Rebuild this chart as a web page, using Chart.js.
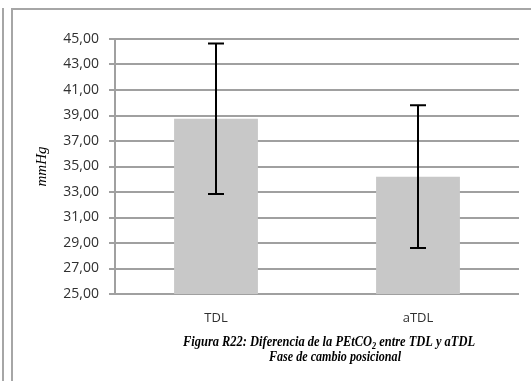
<!DOCTYPE html>
<html>
<head>
<meta charset="utf-8">
<script src="https://cdn.jsdelivr.net/npm/chart.js@4.4.1/dist/chart.umd.min.js"></script>
<style>
  html, body { margin: 0; padding: 0; background: #fff; }
  #wrap { position: relative; width: 531px; height: 381px; overflow: hidden; }
  .vline { position: absolute; top: 8px; width: 2px; height: 373px; background: #a6a6a6; }
  .hline { position: absolute; top: 8px; left: 11px; width: 520px; height: 2px; background: #a6a6a6; }
  #chart { position: absolute; left: 12px; top: 10px; }
</style>
</head>
<body>
<div id="wrap">
  <div class="vline" style="left:2px"></div>
  <div class="vline" style="left:11px"></div>
  <div class="hline"></div>
  <canvas id="chart" width="519" height="371"></canvas>
</div>
<script>
// datos
const categorias = ['TDL', 'aTDL'];
const medias = [38.75, 34.2];
const desviaciones = [5.9, 5.6];
const yMin = 25, yMax = 45, yPaso = 2;
const tituloEje = 'mmHg';
const pie1 = ['Figura R22: Diferencia de la PEtCO', '2', ' entre TDL y aTDL'];
const pie2 = 'Fase de cambio posicional';

// barras de error (media +/- desviacion)
const barrasError = {
    id: 'barrasError',
    afterDatasetsDraw(chart) {
        const ctx = chart.ctx;
        const y = chart.scales.y;
        const meta = chart.getDatasetMeta(0);
        ctx.save();
        ctx.strokeStyle = '#000';
        ctx.lineWidth = 2;
        meta.data.forEach((bar, i) => {
            const top = y.getPixelForValue(medias[i] + desviaciones[i]);
            const bot = y.getPixelForValue(medias[i] - desviaciones[i]);
            ctx.beginPath();
            ctx.moveTo(bar.x, top); ctx.lineTo(bar.x, bot);
            ctx.moveTo(bar.x - 8, top); ctx.lineTo(bar.x + 8, top);
            ctx.moveTo(bar.x - 8, bot); ctx.lineTo(bar.x + 8, bot);
            ctx.stroke();
        });
        ctx.restore();
    }
};

// pie de figura con subindice
const pieFigura = {
    id: 'pieFigura',
    afterDraw(chart) {
        const ctx = chart.ctx;
        const area = chart.chartArea;
        const cx = (area.left + area.right) / 2;
        ctx.save();
        ctx.fillStyle = '#000';
        ctx.textBaseline = 'middle';
        const f = 'italic bold 15px "Liberation Serif", "DejaVu Serif", serif';
        const fs = 'italic bold 10px "Liberation Serif", "DejaVu Serif", serif';
        ctx.font = f;
        const w0 = ctx.measureText(pie1[0]).width;
        const w2 = ctx.measureText(pie1[2]).width;
        ctx.font = fs;
        const w1 = ctx.measureText(pie1[1]).width;
        const total = w0 + w1 + w2;
        const k = Math.min(1, 292 / total);
        const y1 = area.bottom + 48;
        ctx.translate(cx + 12, y1);
        ctx.scale(k, 1);
        let x = -total / 2;
        ctx.textAlign = 'left';
        ctx.font = f; ctx.fillText(pie1[0], x, 0); x += w0;
        ctx.font = fs; ctx.fillText(pie1[1], x, 4); x += w1;
        ctx.font = f; ctx.fillText(pie1[2], x, 0);
        ctx.restore();

        ctx.save();
        ctx.fillStyle = '#000';
        ctx.textBaseline = 'middle';
        ctx.textAlign = 'center';
        ctx.font = f;
        ctx.fillText(pie2, cx + 18, y1 + 15, 132);
        ctx.restore();
    }
};

const ctx = document.getElementById('chart').getContext('2d');
new Chart(ctx, {
    type: 'bar',
    data: {
        labels: categorias,
        datasets: [{
            data: medias,
            backgroundColor: '#c8c8c8',
            borderWidth: 0,
            categoryPercentage: 1,
            barPercentage: 0.415
        }]
    },
    options: {
        responsive: false,
        animation: false,
        layout: { padding: { top: 29, right: 12, bottom: 57, left: 0 } },
        plugins: { legend: { display: false }, tooltip: { enabled: false } },
        scales: {
            x: {
                grid: { display: false, drawTicks: false },
                border: { display: false },
                ticks: { color: '#303030', padding: 16, font: { family: '"Open Sans"', size: 13 } },
                afterFit: s => { s.height = 30; }
            },
            y: {
                min: yMin,
                max: yMax,
                grid: { color: '#a0a0a0', lineWidth: 2, tickLength: 6, tickColor: '#a0a0a0' },
                border: { color: '#a0a0a0', width: 2 },
                ticks: {
                    stepSize: yPaso,
                    color: '#303030',
                    padding: 10,
                    font: { family: '"Open Sans"', size: 14 },
                    callback: v => v.toFixed(2).replace('.', ',')
                },
                title: {
                    display: true,
                    text: tituloEje,
                    color: '#000',
                    padding: { top: 21, bottom: 0 },
                    font: { family: '"Liberation Serif"', size: 15, style: 'italic' }
                },
                afterFit: s => { s.width = 103; }
            }
        }
    },
    plugins: [barrasError, pieFigura]
});
</script>
</body>
</html>
